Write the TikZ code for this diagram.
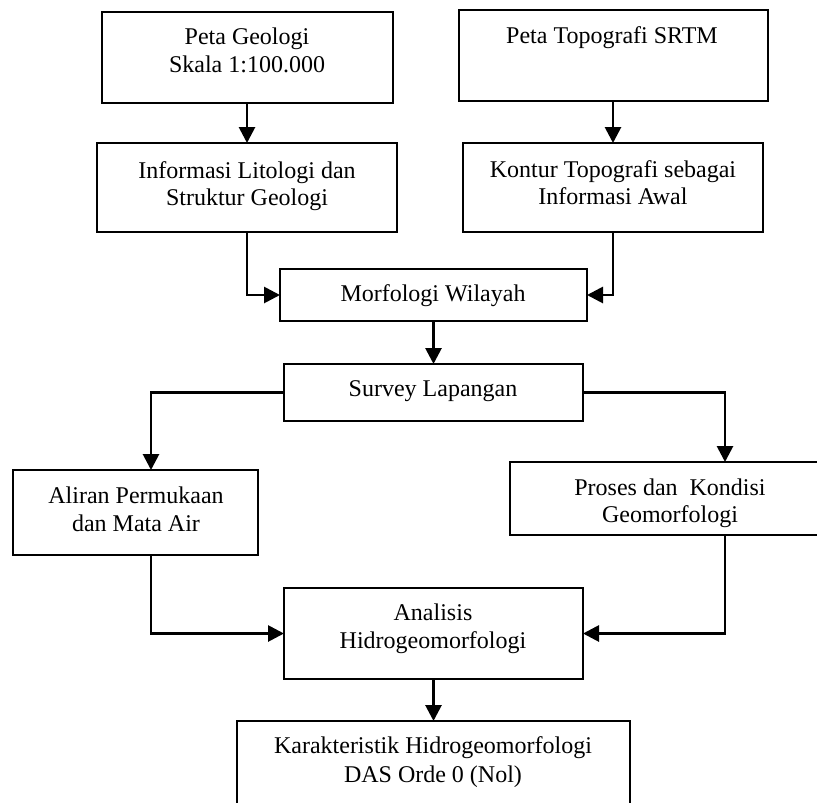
\documentclass[tikz,border=0pt]{standalone}
\usepackage{fontspec}
\setmainfont{Liberation Serif}
\usetikzlibrary{arrows.meta}
\begin{document}
\begin{tikzpicture}[x=1pt,y=-1pt,
  box/.style={draw, line width=1.5pt, inner sep=0pt, outer sep=0pt},
  txt/.style={font=\fontsize{24}{28}\selectfont, inner sep=0pt, anchor=base},
  conn/.style={line width=2.8pt, -{Triangle[width=16pt,length=16pt]}}]
\useasboundingbox (0,0) rectangle (817,803);
\clip (0,0) rectangle (817,803);
% boxes
\node[box, minimum width=291pt, minimum height=91pt] (geo) at (247.5,57.5) {};
\node[box, minimum width=309pt, minimum height=91pt] (topo) at (613.5,55.5) {};
\node[box, minimum width=300pt, minimum height=89pt] (lit) at (247,187.5) {};
\node[box, minimum width=300pt, minimum height=89pt] (kon) at (613,187.5) {};
\node[box, minimum width=307pt, minimum height=52pt] (morf) at (433.5,295) {};
\node[box, minimum width=299pt, minimum height=57pt] (sur) at (433.5,392.5) {};
\node[box, minimum width=245pt, minimum height=85pt] (ali) at (135.5,512.5) {};
\node[box, minimum width=320pt, minimum height=73pt] (pro) at (670,498.5) {};
\node[box, minimum width=299pt, minimum height=91pt] (ana) at (433.5,633.5) {};
\node[box, minimum width=393pt, minimum height=110pt] (kar) at (433.5,776) {};
% texts
\node[txt] (geo1) at (247,44) {Peta Geologi};
\node[txt] (geo2) at (247,72) {Skala 1:100.000};
\node[txt] (topo1) at (612,43) {Peta Topografi SRTM};
\node[txt] (lit1) at (247,178.5) {Informasi Litologi dan};
\node[txt] (lit2) at (247,205) {Struktur Geologi};
\node[txt] (kon1) at (613,177) {Kontur Topografi sebagai};
\node[txt] (kon2) at (613,204) {Informasi Awal};
\node[txt] (morf1) at (433,301) {Morfologi Wilayah};
\node[txt] (sur1) at (433,396) {Survey Lapangan};
\node[txt] (ali1) at (136,503) {Aliran Permukaan};
\node[txt] (ali2) at (136,531) {dan Mata Air};
\node[txt] (pro1) at (670,495) {Proses dan~ Kondisi};
\node[txt] (pro2) at (670,522) {Geomorfologi};
\node[txt] (ana1) at (433,620) {Analisis};
\node[txt] (ana2) at (433,648) {Hidrogeomorfologi};
\node[txt] (kar1) at (433,753) {Karakteristik Hidrogeomorfologi};
\node[txt] (kar2) at (433,782) {DAS Orde 0 (Nol)};
% connectors
\draw[conn] (geo.south -| lit.north) -- (lit.north);
\draw[conn] (topo.south -| kon.north) -- (kon.north);
\draw[conn] (lit.south) |- (morf.west);
\draw[conn] (kon.south) |- (morf.east);
\draw[conn] (morf.south) -- (sur.north);
\draw[conn] (sur.west) -| ([xshift=15.5pt]ali.north);
\draw[conn] (sur.east) -| ([xshift=55pt]pro.north);
\draw[conn] ([xshift=15.5pt]ali.south) |- (ana.west);
\draw[conn] ([xshift=55pt]pro.south) |- (ana.east);
\draw[conn] (ana.south) -- (kar.north);
\end{tikzpicture}
\end{document}
